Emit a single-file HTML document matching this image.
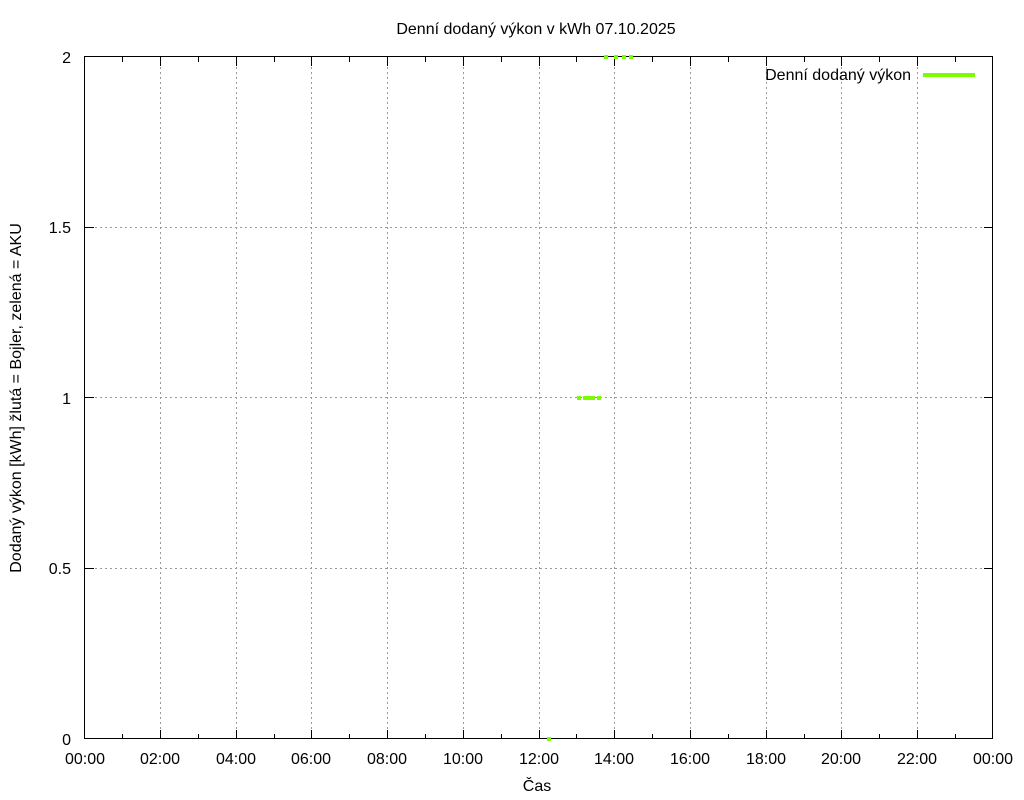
<!DOCTYPE html>
<html><head><meta charset="utf-8"><style>body{margin:0;background:#fff}svg{display:block}text{font-family:"Liberation Sans",sans-serif;font-size:16px;fill:#000}</style></head><body>
<svg width="1024" height="800" xmlns="http://www.w3.org/2000/svg">
<g stroke="#999" stroke-width="1" stroke-dasharray="2,3">
<line x1="85" y1="568.5" x2="993" y2="568.5"/><line x1="85" y1="397.5" x2="993" y2="397.5"/><line x1="85" y1="227.5" x2="993" y2="227.5"/>
<line x1="160.5" y1="57" x2="160.5" y2="739"/><line x1="236.5" y1="57" x2="236.5" y2="739"/><line x1="311.5" y1="57" x2="311.5" y2="739"/><line x1="387.5" y1="57" x2="387.5" y2="739"/><line x1="463.5" y1="57" x2="463.5" y2="739"/><line x1="539.5" y1="57" x2="539.5" y2="739"/><line x1="614.5" y1="57" x2="614.5" y2="739"/><line x1="690.5" y1="57" x2="690.5" y2="739"/><line x1="766.5" y1="57" x2="766.5" y2="739"/><line x1="841.5" y1="57" x2="841.5" y2="739"/><line x1="917.5" y1="57" x2="917.5" y2="739"/>
</g>
<g stroke="#000" stroke-width="1">
<rect x="84.5" y="56.5" width="908" height="682" fill="none"/>
<path d="M160.5 739v-9M236.5 739v-9M311.5 739v-9M387.5 739v-9M463.5 739v-9M539.5 739v-9M614.5 739v-9M690.5 739v-9M766.5 739v-9M841.5 739v-9M917.5 739v-9
M160.5 57v9M236.5 57v9M311.5 57v9M387.5 57v9M463.5 57v9M539.5 57v9M614.5 57v9M690.5 57v9M766.5 57v9M841.5 57v9M917.5 57v9
M122.5 739v-5M198.5 739v-5M274.5 739v-5M349.5 739v-5M425.5 739v-5M501.5 739v-5M576.5 739v-5M652.5 739v-5M728.5 739v-5M804.5 739v-5M879.5 739v-5M955.5 739v-5
M122.5 57v5M198.5 57v5M274.5 57v5M349.5 57v5M425.5 57v5M501.5 57v5M576.5 57v5M652.5 57v5M728.5 57v5M804.5 57v5M879.5 57v5M955.5 57v5
M85 568.5h9M85 397.5h9M85 227.5h9M993 568.5h-9M993 397.5h-9M993 227.5h-9"/>
</g>
<g text-anchor="end">
<text x="71" y="745">0</text><text x="71" y="574">0.5</text><text x="71" y="404">1</text><text x="71" y="233">1.5</text><text x="71" y="63">2</text>
</g>
<g text-anchor="middle">
<text x="85" y="764">00:00</text><text x="160" y="764">02:00</text><text x="236" y="764">04:00</text><text x="311" y="764">06:00</text><text x="387" y="764">08:00</text><text x="463" y="764">10:00</text><text x="539" y="764">12:00</text><text x="614" y="764">14:00</text><text x="690" y="764">16:00</text><text x="766" y="764">18:00</text><text x="841" y="764">20:00</text><text x="917" y="764">22:00</text><text x="993" y="764">00:00</text>
<text x="537" y="791">Čas</text>
<text x="536" y="34">Denní dodaný výkon v kWh 07.10.2025</text>
<text transform="translate(21,398) rotate(-90)">Dodaný výkon [kWh]  žlutá = Bojler, zelená = AKU</text>
</g>
<text x="911" y="80" text-anchor="end">Denní dodaný výkon</text>
<line x1="923" y1="75" x2="975" y2="75" stroke="#7cfc00" stroke-width="4"/>
<g fill="#7cfc00">
<rect x="604" y="55" width="4" height="4"/><rect x="614" y="55" width="4" height="4"/><rect x="622" y="55" width="4" height="4"/><rect x="629" y="55" width="4" height="4"/>
<rect x="577" y="396" width="4" height="4"/><rect x="583" y="396" width="12" height="4"/><rect x="597" y="396" width="4" height="4"/>
<rect x="547" y="737" width="4" height="4"/>
</g>
</svg>
</body></html>
